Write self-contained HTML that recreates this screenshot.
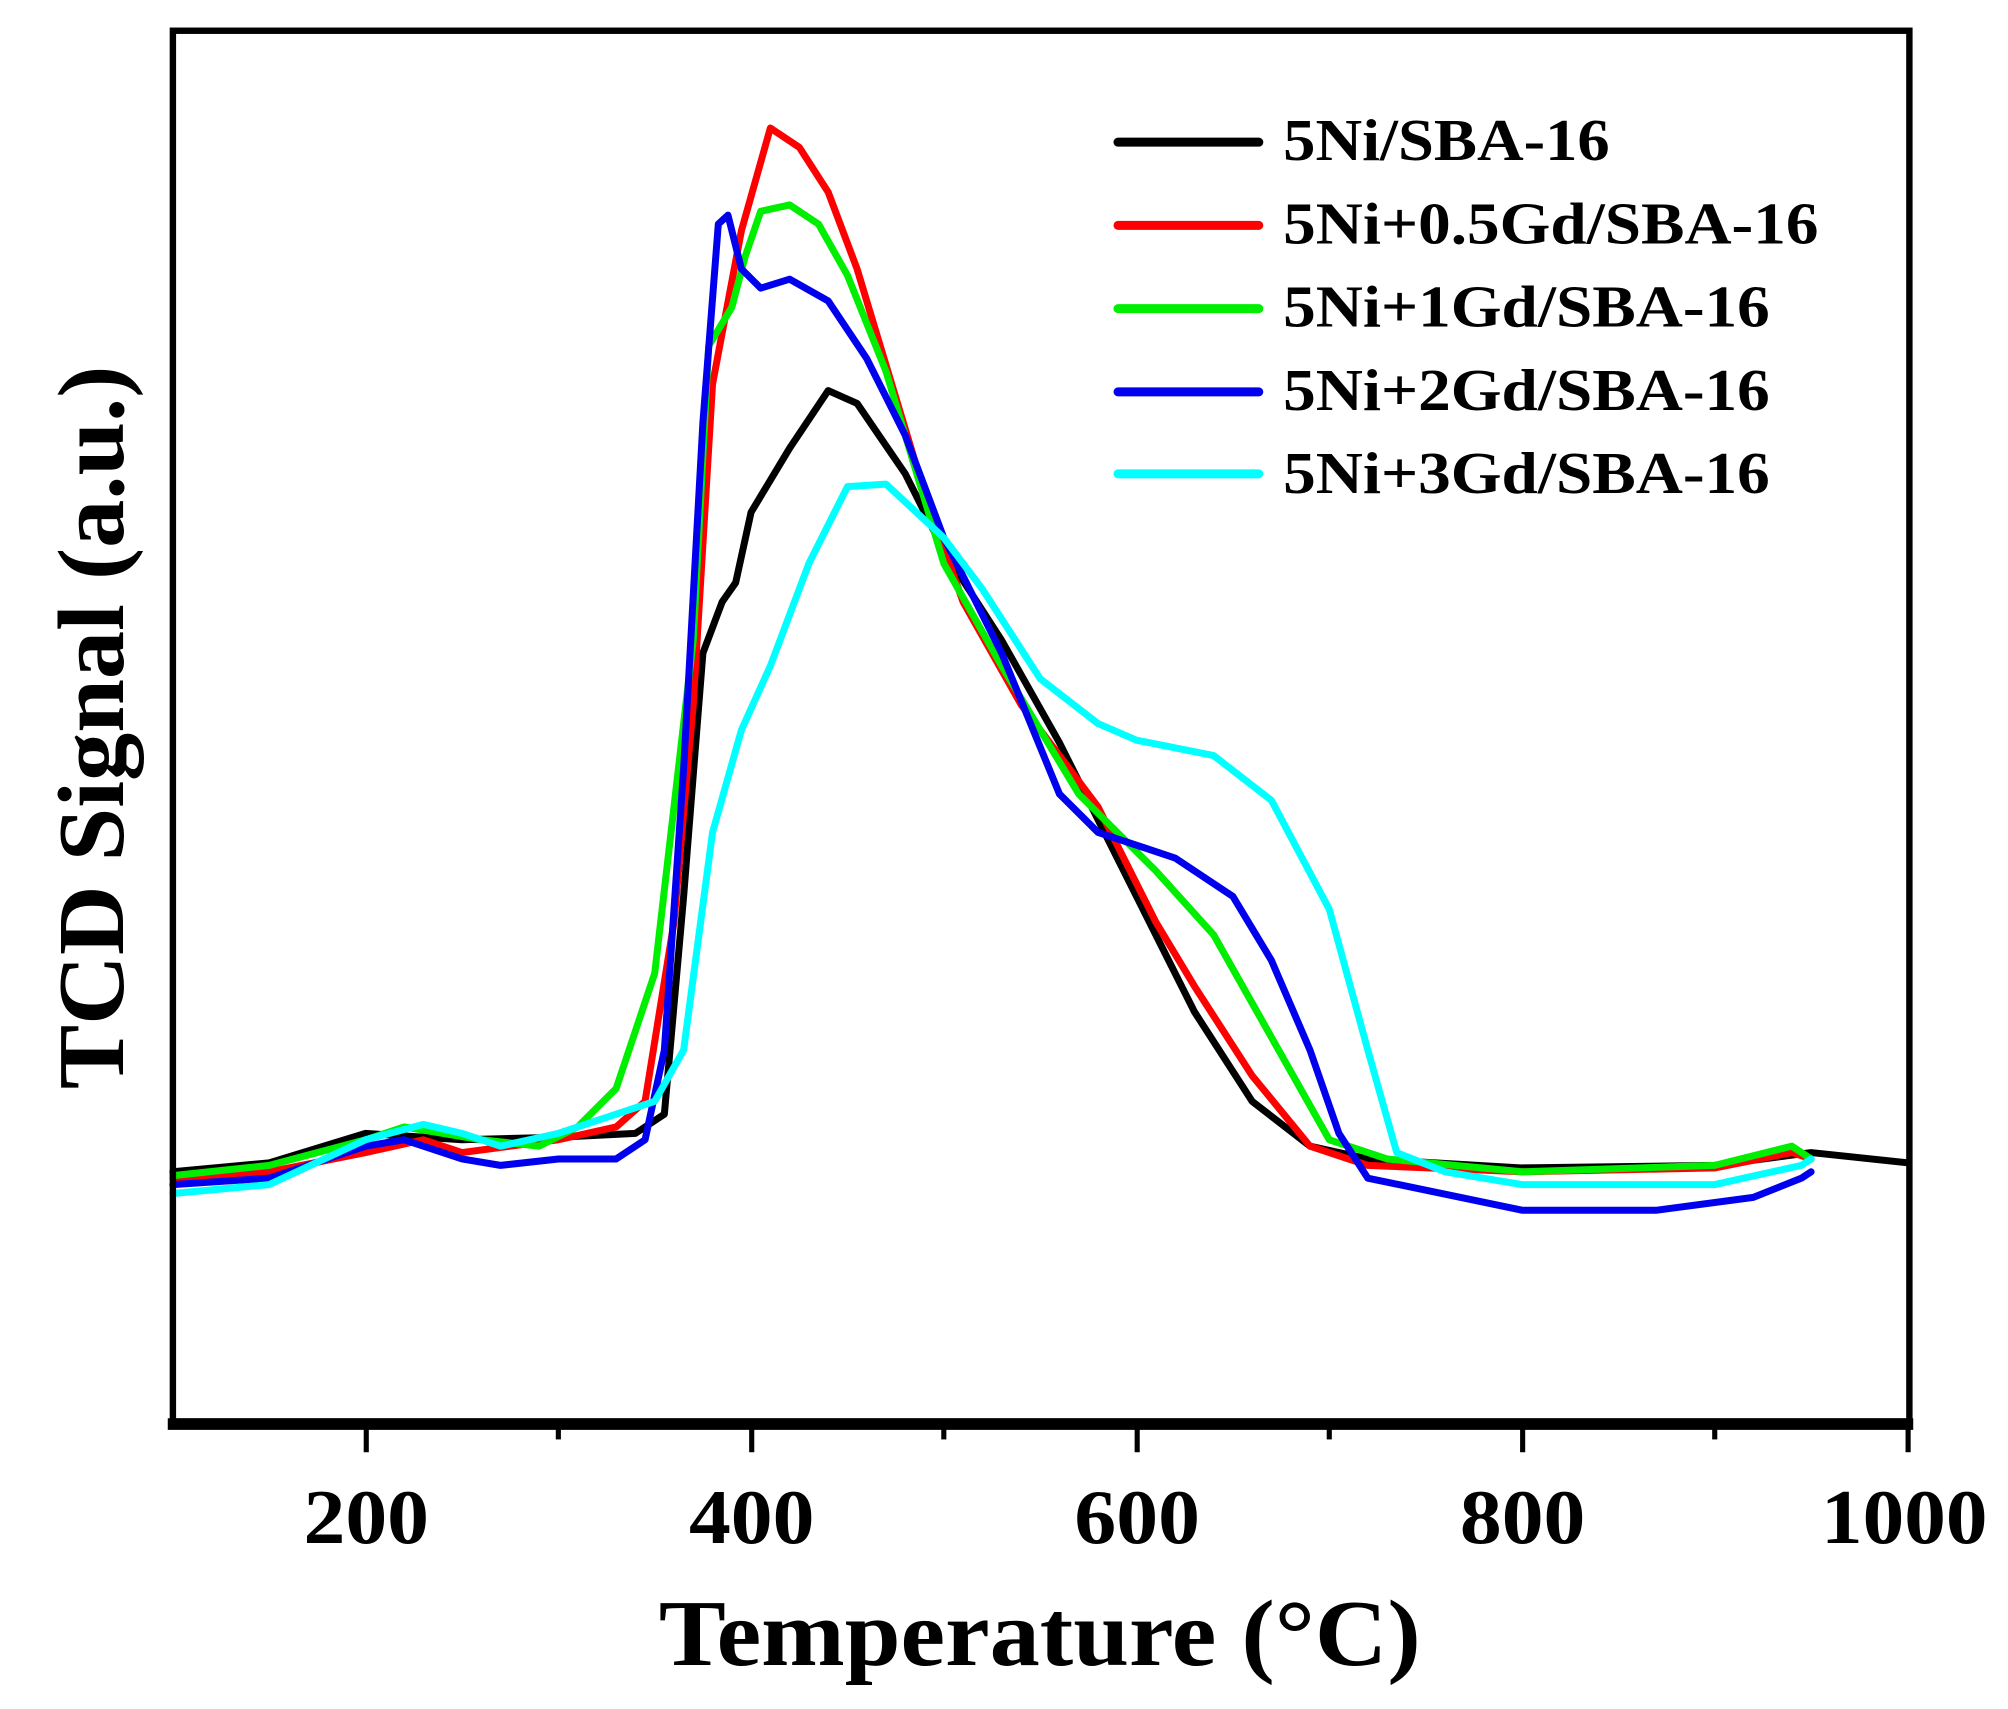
<!DOCTYPE html>
<html><head><meta charset="utf-8"><style>html,body{margin:0;padding:0;background:#fff}svg{display:block}</style></head>
<body>
<svg width="2008" height="1709" viewBox="0 0 1568 1334.5" preserveAspectRatio="none" xmlns="http://www.w3.org/2000/svg">
<rect width="1568" height="1334.5" fill="#fff"/>
<g fill="none" stroke-linejoin="round" stroke-linecap="round" transform="matrix(1.505 0 0 1 -15.5 0)">
<polyline vector-effect="non-scaling-stroke" stroke="#000" stroke-width="7" points="100,915 150,908 200,885 250,890 300,888 340,885 355,870 365,700 375,510 385,470 392,455 400,400 420,350 440,305 455,315 480,370 500,430 530,500 560,580 600,700 630,790 660,860 690,895 720,905 800,912 900,910 950,900 1000,908"/>
<polyline vector-effect="non-scaling-stroke" stroke="#ff0000" stroke-width="7" points="100,920 150,915 200,900 230,890 250,900 300,890 330,880 345,860 360,720 370,550 380,300 395,180 410,100 425,115 440,150 455,210 470,285 490,385 510,470 540,550 580,630 610,720 630,770 660,840 690,895 720,910 800,915 900,912 940,900 950,905"/>
<polyline vector-effect="non-scaling-stroke" stroke="#00ee00" stroke-width="7" points="100,918 150,910 200,890 220,880 260,890 290,895 310,880 330,850 350,760 370,500 378,270 390,240 397,200 405,165 420,160 435,175 450,215 470,290 490,390 500,440 530,520 570,620 610,680 640,730 670,810 700,890 730,905 800,915 900,910 940,895 950,905"/>
<polyline vector-effect="non-scaling-stroke" stroke="#0000ee" stroke-width="7" points="100,925 150,920 200,895 220,890 250,905 270,910 300,905 330,905 345,890 355,820 365,600 375,330 383,175 388,168 395,210 405,225 420,218 440,235 460,280 480,340 500,420 530,510 560,620 580,650 620,670 650,700 670,750 690,820 705,885 720,920 800,945 870,945 920,935 945,920 950,915"/>
<polyline vector-effect="non-scaling-stroke" stroke="#00ffff" stroke-width="7" points="100,932 150,925 200,890 230,878 250,885 270,895 300,885 330,870 350,860 365,820 380,650 395,570 410,520 430,440 450,380 470,378 500,420 520,460 550,530 580,565 600,578 640,590 670,625 700,710 720,820 735,900 760,915 800,925 900,925 945,910 950,905"/>
</g>
<rect x="135" y="24" width="1356" height="1086" fill="none" stroke="#000" stroke-width="5"/>
<line x1="131" y1="1112" x2="1494" y2="1112" stroke="#000" stroke-width="9"/>
<g stroke="#000" stroke-width="4">
<line x1="286" y1="1112" x2="286" y2="1134"/><line x1="587" y1="1112" x2="587" y2="1134"/><line x1="888" y1="1112" x2="888" y2="1134"/><line x1="1189" y1="1112" x2="1189" y2="1134"/><line x1="1490" y1="1112" x2="1490" y2="1134"/>
<line x1="436" y1="1112" x2="436" y2="1124"/><line x1="737" y1="1112" x2="737" y2="1124"/><line x1="1038" y1="1112" x2="1038" y2="1124"/><line x1="1339" y1="1112" x2="1339" y2="1124"/>
</g>
<g style="font-family:'Liberation Serif',serif;font-weight:bold" fill="#000">
<text x="286" y="1205" font-size="60" text-anchor="middle" textLength="98" lengthAdjust="spacingAndGlyphs">200</text>
<text x="587" y="1205" font-size="60" text-anchor="middle" textLength="98" lengthAdjust="spacingAndGlyphs">400</text>
<text x="888" y="1205" font-size="60" text-anchor="middle" textLength="98" lengthAdjust="spacingAndGlyphs">600</text>
<text x="1189" y="1205" font-size="60" text-anchor="middle" textLength="98" lengthAdjust="spacingAndGlyphs">800</text>
<text x="1487" y="1205" font-size="60" text-anchor="middle" textLength="130" lengthAdjust="spacingAndGlyphs">1000</text>
<text x="812" y="1300" font-size="74" text-anchor="middle" textLength="595" lengthAdjust="spacingAndGlyphs">Temperature (°C)</text>
<text transform="translate(96,568) rotate(-90)" font-size="74" text-anchor="middle" textLength="565" lengthAdjust="spacingAndGlyphs">TCD Signal (a.u.)</text>
<g font-size="46">
<text x="1002" y="125" textLength="255" lengthAdjust="spacingAndGlyphs">5Ni/SBA-16</text>
<text x="1002" y="190" textLength="418" lengthAdjust="spacingAndGlyphs">5Ni+0.5Gd/SBA-16</text>
<text x="1002" y="255" textLength="380" lengthAdjust="spacingAndGlyphs">5Ni+1Gd/SBA-16</text>
<text x="1002" y="320" textLength="380" lengthAdjust="spacingAndGlyphs">5Ni+2Gd/SBA-16</text>
<text x="1002" y="385" textLength="380" lengthAdjust="spacingAndGlyphs">5Ni+3Gd/SBA-16</text>
</g>
</g>
<g stroke-width="7" stroke-linecap="round">
<line x1="873" y1="111" x2="983" y2="111" stroke="#000"/>
<line x1="873" y1="176" x2="983" y2="176" stroke="#ff0000"/>
<line x1="873" y1="241" x2="983" y2="241" stroke="#00ee00"/>
<line x1="873" y1="306" x2="983" y2="306" stroke="#0000ee"/>
<line x1="873" y1="370" x2="983" y2="370" stroke="#00ffff"/>
</g>
</svg>
</body></html>
